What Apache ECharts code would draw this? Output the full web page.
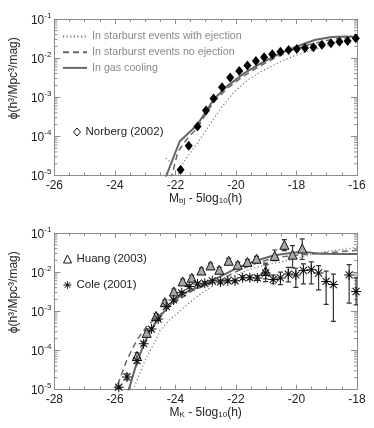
<!DOCTYPE html>
<html><head><meta charset="utf-8">
<script src="https://cdn.jsdelivr.net/npm/echarts@6/dist/echarts.min.js"></script>
<style>html,body{margin:0;padding:0;background:#fff}#c{width:374px;height:428px}</style>
</head><body><div id="c"></div>
<script>
// ---------- Top panel (b_J band) ----------
const bjXTicks = [-26, -24, -22, -20, -18, -16];
const norbergX   = [-21.83,-21.56,-21.27,-20.99,-20.74,-20.46,-20.19,-19.89,-19.62,-19.34,-19.07,-18.80,-18.53,-18.26,-17.99,-17.72,-17.44,-17.16,-16.86,-16.58,-16.31,-16.04];
const norbergPhi = [1.4e-5,5.8e-5,1.8e-4,4.6e-4,9.3e-4,1.8e-3,3.2e-3,4.7e-3,6.5e-3,8.5e-3,1.05e-2,1.26e-2,1.45e-2,1.62e-2,1.7e-2,1.82e-2,1.9e-2,2.19e-2,2.4e-2,2.63e-2,2.75e-2,3.2e-2];

const bjCoolX   = [-22.35,-21.86,-21.27,-20.99,-20.73,-20.3,-19.75,-19.21,-18.65,-18.13,-17.7,-17.37,-16.83,-16.4,-16.0];
const bjCoolPhi = [7.9e-6,7.4e-5,2.0e-4,4.4e-4,8.9e-4,1.9e-3,4.0e-3,7.1e-3,1.2e-2,1.8e-2,2.4e-2,2.95e-2,3.47e-2,3.55e-2,3.47e-2];
const bjNoEjX   = [-22.15,-21.92,-21.6,-21.27,-20.99,-20.73,-20.3,-19.75,-19.21,-18.65,-18.13,-17.6,-17.0,-16.5,-16.0];
const bjNoEjPhi = [7.9e-6,4.0e-5,8.9e-5,1.66e-4,3.8e-4,7.6e-4,1.66e-3,3.47e-3,6.3e-3,1.07e-2,1.62e-2,2.19e-2,2.82e-2,3.3e-2,3.8e-2];
const bjEjAX    = [-22.32,-22.03];
const bjEjAPhi  = [2.75e-5,1.86e-5];
const bjEjX     = [-21.95,-21.70,-21.32,-20.89,-20.5,-20.08,-19.6,-19.2,-18.6,-18.13,-17.6,-17.05,-16.5,-16.0];
const bjEjPhi   = [8.9e-6,2.4e-5,6.0e-5,1.9e-4,5.2e-4,1.32e-3,2.8e-3,4.4e-3,7.6e-3,1.1e-2,1.5e-2,2.0e-2,2.9e-2,4.1e-2];

// ---------- Bottom panel (K band) ----------
const kXTicks = [-28, -26, -24, -22, -20, -18];
const huangX   = [-25.27,-24.95,-24.64,-24.35,-24.05,-23.76,-23.46,-23.14,-22.84,-22.55,-22.24,-21.94,-21.62,-21.32,-21.02,-20.72,-20.40,-20.13,-19.81];
const huangPhi = [7.2e-5,2.8e-4,7.6e-4,1.7e-3,3.2e-3,5.8e-3,7.2e-3,1.1e-2,1.48e-2,1.15e-2,1.95e-2,1.55e-2,1.82e-2,2.2e-2,1.07e-2,2.6e-2,5.0e-2,2.8e-2,4.0e-2];
const huangErrUp = [0.08,0.06,0.06,0.06,0.06,0.06,0.06,0.06,0.06,0.06,0.06,0.06,0.06,0.06,0.20,0.15,0.13,0.23,0.25];
const huangErrDn = [0.08,0.06,0.06,0.06,0.06,0.06,0.06,0.06,0.06,0.06,0.06,0.06,0.06,0.06,0.20,0.12,0.15,0.33,0.28];

const coleX   = [-25.87,-25.60,-25.27,-25.05,-24.79,-24.57,-24.30,-24.06,-23.79,-23.54,-23.27,-23.03,-22.78,-22.51,-22.27,-22.03,-21.78,-21.54,-21.29,-21.02,-20.77,-20.53,-20.27,-20.02,-19.77,-19.51,-19.27,-19.02,-18.78,-18.26,-18.03];
const colePhi = [1.15e-5,2.1e-5,5.5e-5,1.48e-4,3.5e-4,6.3e-4,1.32e-3,1.95e-3,2.95e-3,4.3e-3,5.0e-3,5.2e-3,6.0e-3,5.6e-3,6.0e-3,6.0e-3,7.2e-3,7.2e-3,7.1e-3,9.5e-3,6.5e-3,7.1e-3,8.9e-3,8.5e-3,1.1e-2,1.15e-2,9.5e-3,5.8e-3,4.8e-3,8.5e-3,3.2e-3];
const coleErrUp = [0.03,0.08,0.07,0.05,0.04,0.04,0.04,0.04,0.04,0.04,0.04,0.04,0.04,0.04,0.04,0.04,0.05,0.05,0.06,0.21,0.11,0.15,0.17,0.17,0.17,0.20,0.19,0.26,0.27,0.26,0.35];
const coleErrDn = [0.03,0.08,0.07,0.05,0.04,0.04,0.04,0.04,0.04,0.04,0.04,0.04,0.04,0.04,0.04,0.04,0.05,0.05,0.06,0.22,0.11,0.17,0.20,0.32,0.34,0.36,0.43,0.59,0.94,0.72,0.34];

const kCoolX   = [-25.6,-25.54,-25.3,-25.05,-24.8,-24.51,-24.03,-23.6,-23.05,-22.51,-21.97,-21.43,-20.73,-20.19,-19.8,-19.21,-18.6,-18.0];
const kCoolPhi = [7.9e-6,1.0e-5,4.2e-5,1.41e-4,3.5e-4,7.4e-4,1.95e-3,3.2e-3,4.8e-3,7.8e-3,1.26e-2,1.86e-2,2.7e-2,3.1e-2,3.3e-2,2.95e-2,2.9e-2,2.9e-2];
const kNoEjX   = [-26.05,-25.97,-25.6,-25.27,-24.95,-24.6,-24.03,-23.43,-22.51,-21.97,-21.43,-20.73,-20.0,-19.5,-18.8,-18.0];
const kNoEjPhi = [7.9e-6,1.0e-5,5.8e-5,1.86e-4,4.1e-4,7.1e-4,1.66e-3,3.4e-3,6.3e-3,1.05e-2,1.58e-2,2.35e-2,2.7e-2,2.9e-2,3.2e-2,3.6e-2];
const kEjX     = [-25.45,-25.0,-24.73,-24.51,-24.19,-23.43,-23.05,-22.51,-21.97,-21.43,-20.73,-20.0,-19.5,-19.0,-18.5,-18.0];
const kEjPhi   = [7.9e-6,5.6e-5,1.41e-4,3.2e-4,6.0e-4,1.95e-3,3.2e-3,5.8e-3,8.7e-3,1.26e-2,1.7e-2,2.2e-2,2.8e-2,3.4e-2,3.8e-2,4.3e-2];

const yMin = 1e-5, yMax = 1e-1;
const NAME_EJ = 'In starburst events with ejection';
const NAME_NOEJ = 'In starburst events no ejection';
const NAME_COOL = 'In gas cooling';

const zip = (xs, ys) => xs.map((x, i) => [x, ys[i]]);
const errRows = (xs, ys, up, dn) => xs.map((x, i) => [x, ys[i] * Math.pow(10, -dn[i]), ys[i] * Math.pow(10, up[i])]);

const FONT = 'Liberation Sans, Arial, Helvetica, sans-serif';
const AX = '#8c8c8c';
const TXT = '#222';

const ASTER = 'path://M9,0L11,0L11,20L9,20Z M0,9L20,9L20,11L0,11Z M3.64,2.22L17.78,16.36L16.36,17.78L2.22,3.64Z M16.36,2.22L17.78,3.64L3.64,17.78L2.22,16.36Z';

function xAxes(grid, min, max, top, name) {
  return {
    gridIndex: grid, type: 'value', min: min, max: max, interval: 2,
    position: top ? 'top' : 'bottom',
    name: top ? '' : name, nameLocation: 'middle', nameGap: 16,
    nameTextStyle: { fontFamily: FONT, fontSize: 12, color: TXT,
      rich: { s: { fontFamily: FONT, fontSize: 8, color: TXT, verticalAlign: 'bottom', padding: [5, 0, 0, 0] },
              n: { fontFamily: FONT, fontSize: 12, color: TXT } } },
    axisLine: { show: true, onZero: false, lineStyle: { color: AX, width: 1 } },
    axisTick: { show: true, inside: true, length: 5, lineStyle: { color: AX } },
    minorTick: { show: true, splitNumber: 4, length: 3, lineStyle: { color: AX } },
    axisLabel: { show: !top, margin: 4, color: TXT, fontFamily: FONT, fontSize: 12 },
    splitLine: { show: false }, minorSplitLine: { show: false }
  };
}
function yAxes(grid, right) {
  return {
    gridIndex: grid, type: 'log', logBase: 10, min: yMin, max: yMax,
    position: right ? 'right' : 'left',
    name: right ? '' : '\u03D5(h\u00B3/Mpc\u00B3/mag)', nameLocation: 'middle', nameGap: 33,
    nameTextStyle: { fontFamily: FONT, fontSize: 12, color: TXT, padding: [0, 0, 0, 38] },
    axisLine: { show: true, onZero: false, lineStyle: { color: AX, width: 1 } },
    axisTick: { show: true, inside: true, length: 6, lineStyle: { color: AX } },
    axisLabel: { show: !right, margin: 3, color: TXT, fontFamily: FONT,
      formatter: v => '{b|10}{e|' + Math.round(Math.log10(v)) + '}',
      rich: { b: { fontSize: 12, fontFamily: FONT, color: TXT, lineHeight: 15, verticalAlign: 'bottom' },
              e: { fontSize: 8, fontFamily: FONT, color: TXT, lineHeight: 15, verticalAlign: 'top' } } },
    splitLine: { show: false }
  };
}

// minor log ticks positions (axis decoration)
const minorVals = [];
for (let d = -5; d <= -2; d++) for (let k = 2; k <= 9; k++) minorVals.push(k * Math.pow(10, d));

function minorTickSeries(xi, yi) {
  return {
    type: 'custom', xAxisIndex: xi, yAxisIndex: yi, silent: true, z: 1,
    data: minorVals.map(v => [0, v]), encode: { x: -1, y: 1 },
    renderItem: (params, api) => {
      const cs = params.coordSys;
      const y = api.coord([-20, api.value(1)])[1];
      const st = { stroke: AX, lineWidth: 1 };
      return { type: 'group', children: [
        { type: 'line', shape: { x1: cs.x, y1: y, x2: cs.x + 3, y2: y }, style: st },
        { type: 'line', shape: { x1: cs.x + cs.width, y1: y, x2: cs.x + cs.width - 3, y2: y }, style: st }
      ] };
    }
  };
}

function errSeries(xi, yi, rows, color) {
  return {
    type: 'custom', xAxisIndex: xi, yAxisIndex: yi, silent: true, z: 2, clip: true,
    data: rows, encode: { x: 0, y: [1, 2] },
    renderItem: (params, api) => {
      const x = api.value(0);
      const p1 = api.coord([x, api.value(1)]);
      const p2 = api.coord([x, api.value(2)]);
      const w = 2.5, st = { stroke: color, lineWidth: 1.2 };
      return { type: 'group', children: [
        { type: 'line', shape: { x1: p1[0], y1: p1[1], x2: p2[0], y2: p2[1] }, style: st },
        { type: 'line', shape: { x1: p1[0] - w, y1: p1[1], x2: p1[0] + w, y2: p1[1] }, style: st },
        { type: 'line', shape: { x1: p2[0] - w, y1: p2[1], x2: p2[0] + w, y2: p2[1] }, style: st }
      ] };
    }
  };
}

function lineSeries(name, xi, yi, xs, ys, kind) {
  const styles = {
    cool: { color: '#666', width: 2, type: 'solid' },
    noej: { color: '#666', width: 1.5, type: [6, 4] },
    ej:   { color: '#777', width: 1.2, type: [1.2, 2.4] }
  };
  const s = styles[kind];
  return {
    name: name, type: 'line', xAxisIndex: xi, yAxisIndex: yi, data: zip(xs, ys),
    symbol: 'none', showSymbol: false, clip: true, z: 3,
    lineStyle: { color: s.color, width: s.width, type: s.type }, itemStyle: { color: s.color }
  };
}

const hidden = { color: 'rgba(0,0,0,0)', borderColor: 'rgba(0,0,0,0)', borderWidth: 0 };

const chart = echarts.init(document.getElementById('c'), null, { renderer: 'canvas' });
chart.setOption({
  animation: false,
  backgroundColor: '#fff',
  grid: [
    { left: 49, top: 19, width: 308, height: 156.5, containLabel: false },
    { left: 49, top: 233, width: 308, height: 156.5, containLabel: false }
  ],
  xAxis: [
    xAxes(0, -26, -16, false, '{n|M}{s|bj}{n| - 5log}{s|10}{n|(h)}'),
    xAxes(0, -26, -16, true, ''),
    xAxes(1, -28, -18, false, '{n|M}{s|K}{n| - 5log}{s|10}{n|(h)}'),
    xAxes(1, -28, -18, true, '')
  ],
  yAxis: [yAxes(0, false), yAxes(0, true), yAxes(1, false), yAxes(1, true)],
  legend: [
    { data: [{ name: NAME_EJ, itemStyle: hidden }, { name: NAME_NOEJ, itemStyle: hidden }, { name: NAME_COOL, itemStyle: hidden }],
      orient: 'vertical', left: 62, top: 31,
      itemWidth: 24, itemHeight: 12, itemGap: 4.7, padding: 0, selectedMode: false,
      textStyle: { color: '#8a8a8a', fontFamily: FONT, fontSize: 10.7 } },
    { data: [{ name: 'Norberg (2002)', icon: 'diamond', itemStyle: { color: '#fff', borderColor: '#111', borderWidth: 1 } }],
      left: 73, top: 126, itemWidth: 7, itemHeight: 8, padding: 0, selectedMode: false,
      textStyle: { color: TXT, fontFamily: FONT, fontSize: 11.5 } },
    { data: [{ name: 'Huang (2003)', icon: 'triangle', itemStyle: { color: '#fff', borderColor: '#111', borderWidth: 1 } },
             { name: 'Cole (2001)', icon: ASTER, itemStyle: { color: '#111' } }],
      orient: 'vertical', left: 63, top: 253, itemWidth: 8, itemHeight: 8, itemGap: 14, padding: 0, selectedMode: false,
      textStyle: { color: TXT, fontFamily: FONT, fontSize: 11.5 } }
  ],
  series: [
    minorTickSeries(0, 0),
    minorTickSeries(2, 2),
    lineSeries(NAME_EJ, 0, 0, bjEjX, bjEjPhi, 'ej'),
    lineSeries(NAME_EJ, 0, 0, bjEjAX, bjEjAPhi, 'ej'),
    lineSeries(NAME_NOEJ, 0, 0, bjNoEjX, bjNoEjPhi, 'noej'),
    lineSeries(NAME_COOL, 0, 0, bjCoolX, bjCoolPhi, 'cool'),
    { name: 'Norberg (2002)', type: 'scatter', xAxisIndex: 0, yAxisIndex: 0, data: zip(norbergX, norbergPhi),
      symbol: 'diamond', symbolSize: [8, 10], itemStyle: { color: '#000', opacity: 1 }, z: 4 },

    lineSeries(NAME_EJ, 2, 2, kEjX, kEjPhi, 'ej'),
    lineSeries(NAME_NOEJ, 2, 2, kNoEjX, kNoEjPhi, 'noej'),
    lineSeries(NAME_COOL, 2, 2, kCoolX, kCoolPhi, 'cool'),
    errSeries(2, 2, errRows(huangX, huangPhi, huangErrUp, huangErrDn), '#333'),
    errSeries(2, 2, errRows(coleX, colePhi, coleErrUp, coleErrDn), '#333'),
    { name: 'Huang (2003)', type: 'scatter', xAxisIndex: 2, yAxisIndex: 2, data: zip(huangX, huangPhi),
      symbol: 'triangle', symbolSize: 9, itemStyle: { color: '#a8a8a8', borderColor: '#111', borderWidth: 1, opacity: 1 }, z: 4 },
    { name: 'Cole (2001)', type: 'scatter', xAxisIndex: 2, yAxisIndex: 2, data: zip(coleX, colePhi),
      symbol: ASTER, symbolSize: 10, itemStyle: { color: '#111', opacity: 1 }, z: 5 }
  ]
});
</script>
</body></html>
